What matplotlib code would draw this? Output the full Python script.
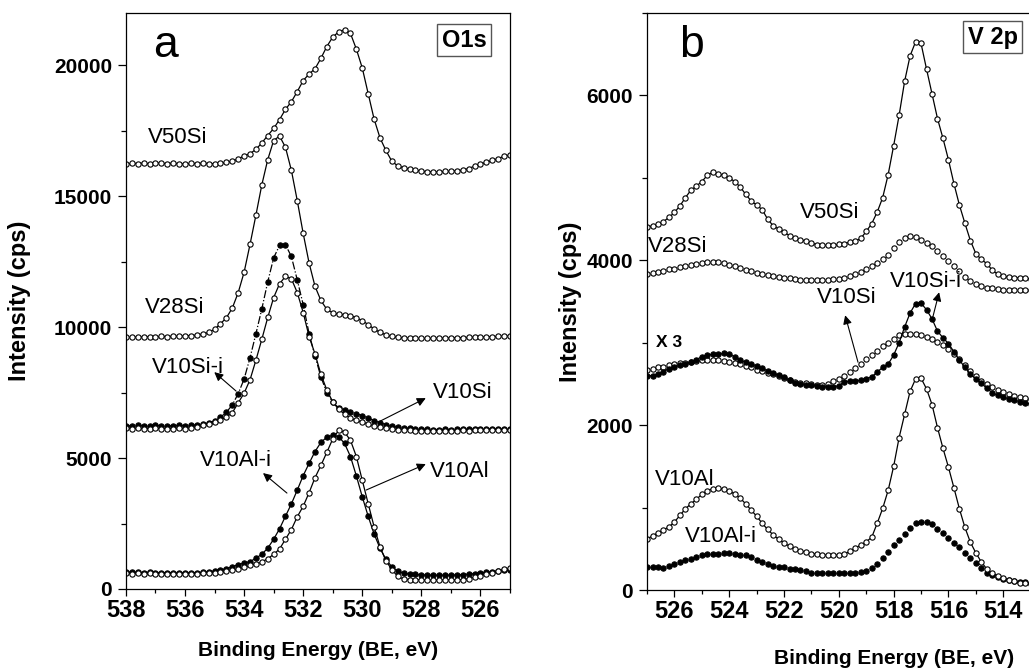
import matplotlib
matplotlib.use('Agg')
import matplotlib.pyplot as plt
from matplotlib.ticker import MultipleLocator
from matplotlib import font_manager

plt.rcParams['font.family'] = 'Liberation Sans'

installed = {f.name for f in font_manager.fontManager.ttflist}
if 'Liberation Sans Narrow' in installed:
    XFONT, XTICK_SIZE, XLABEL_SIZE = 'Liberation Sans Narrow', 20, 18
else:
    XFONT, XTICK_SIZE, XLABEL_SIZE = 'Liberation Sans', 17, 15

# ---- panel a : O 1s -------------------------------------------------------
BE_A = [538.0, 537.8, 537.6, 537.4, 537.2, 537.0, 536.8, 536.6, 536.4, 536.2,
        536.0, 535.8, 535.6, 535.4, 535.2, 535.0, 534.8, 534.6, 534.4, 534.2,
        534.0, 533.8, 533.6, 533.4, 533.2, 533.0, 532.8, 532.6, 532.4, 532.2,
        532.0, 531.8, 531.6, 531.4, 531.2, 531.0, 530.8, 530.6, 530.4, 530.2,
        530.0, 529.8, 529.6, 529.4, 529.2, 529.0, 528.8, 528.6, 528.4, 528.2,
        528.0, 527.8, 527.6, 527.4, 527.2, 527.0, 526.8, 526.6, 526.4, 526.2,
        526.0, 525.8, 525.6, 525.4, 525.2, 525.0]

o1s_v50si = [16230, 16260, 16250, 16270, 16240, 16280, 16260, 16250, 16270, 16240,
             16230, 16260, 16250, 16270, 16250, 16240, 16260, 16300, 16340, 16430,
             16540, 16630, 16790, 17040, 17320, 17590, 17930, 18320, 18610, 19000,
             19420, 19670, 19870, 20270, 20720, 21080, 21280, 21360, 21220, 20620,
             19900, 18920, 17950, 17230, 16750, 16340, 16160, 16090, 16040, 16000,
             15960, 15940, 15930, 15930, 15950, 15950, 15980, 16000, 16060, 16150,
             16230, 16300, 16370, 16440, 16530, 16580]

o1s_v28si = [9620, 9610, 9630, 9620, 9640, 9630, 9650, 9640, 9660, 9650,
             9670, 9680, 9700, 9740, 9800, 9920, 10130, 10360, 10730, 11320,
             12100, 13160, 14280, 15440, 16400, 17130, 17300, 16870, 15990, 14830,
             13580, 12450, 11560, 11020, 10680, 10550, 10490, 10480, 10440, 10360,
             10250, 10100, 9930, 9800, 9710, 9650, 9610, 9590, 9580, 9570,
             9570, 9570, 9570, 9580, 9580, 9590, 9600, 9600, 9610, 9620,
             9620, 9630, 9640, 9650, 9660, 9660]

o1s_v10si_i = [6240, 6230, 6250, 6240, 6230, 6250, 6240, 6230, 6240, 6250,
               6240, 6260, 6270, 6290, 6340, 6430, 6560, 6750, 7030, 7460,
               8020, 8830, 9750, 10700, 11730, 12650, 13120, 13150, 12700, 11800,
               10860, 9750, 8900, 8100, 7500, 7130, 6920, 6830, 6760, 6700,
               6620, 6530, 6430, 6350, 6280, 6220, 6180, 6150, 6140, 6130,
               6110, 6100, 6090, 6090, 6100, 6090, 6100, 6110, 6100, 6110,
               6120, 6110, 6120, 6110, 6100, 6100]

o1s_v10si = [6140, 6130, 6140, 6130, 6120, 6140, 6130, 6120, 6130, 6140,
             6130, 6150, 6190, 6250, 6320, 6385, 6455, 6565, 6730, 7110,
             7480, 7990, 8740, 9540, 10370, 11130, 11660, 11940, 11850, 11320,
             10560, 9640, 8980, 8200, 7600, 7150, 6860, 6680, 6530, 6440,
             6380, 6300, 6240, 6190, 6150, 6110, 6090, 6070, 6060, 6050,
             6040, 6040, 6050, 6040, 6050, 6040, 6050, 6060, 6050, 6060,
             6060, 6070, 6060, 6070, 6060, 6070]

o1s_v10al_i = [640, 650, 640, 630, 640, 630, 620, 630, 620, 610,
               620, 620, 630, 640, 660, 690, 730, 780, 850, 930,
               990, 1050, 1170, 1330, 1560, 1900, 2300, 2780, 3250, 3780,
               4330, 4800, 5250, 5600, 5800, 5870, 5820, 5560, 5060, 4320,
               3520, 2780, 2100, 1560, 1130, 850, 670, 600, 570, 555,
               540, 535, 530, 525, 530, 530, 540, 550, 570, 590,
               615, 640, 660, 690, 710, 730]

o1s_v10al = [600, 590, 600, 590, 600, 590, 580, 590, 590, 580,
             580, 590, 590, 600, 610, 620, 640, 670, 710, 770,
             830, 900, 960, 1030, 1160, 1320, 1530, 1900, 2270, 2760,
             3160, 3680, 4250, 4720, 5220, 5730, 6060, 5990, 5680, 5060,
             4150, 3260, 2380, 1610, 1080, 740, 480, 380, 360, 350,
             345, 340, 340, 345, 340, 345, 350, 360, 400, 450,
             510, 570, 620, 680, 750, 800]

# ---- panel b : V 2p -------------------------------------------------------
BE_B = [527.0, 526.8, 526.6, 526.4, 526.2, 526.0, 525.8, 525.6, 525.4, 525.2,
        525.0, 524.8, 524.6, 524.4, 524.2, 524.0, 523.8, 523.6, 523.4, 523.2,
        523.0, 522.8, 522.6, 522.4, 522.2, 522.0, 521.8, 521.6, 521.4, 521.2,
        521.0, 520.8, 520.6, 520.4, 520.2, 520.0, 519.8, 519.6, 519.4, 519.2,
        519.0, 518.8, 518.6, 518.4, 518.2, 518.0, 517.8, 517.6, 517.4, 517.2,
        517.0, 516.8, 516.6, 516.4, 516.2, 516.0, 515.8, 515.6, 515.4, 515.2,
        515.0, 514.8, 514.6, 514.4, 514.2, 514.0, 513.8, 513.6, 513.4, 513.2,
        513.0]

v2p_v50si = [4400, 4420, 4440, 4470, 4520, 4580, 4660, 4760, 4850, 4900,
             4955, 5030, 5068, 5050, 5030, 5000, 4955, 4890, 4800, 4720,
             4670, 4615, 4500, 4420, 4380, 4340, 4300, 4265, 4248, 4235,
             4210, 4190, 4181, 4181, 4181, 4194, 4202, 4222, 4232, 4265,
             4350, 4445, 4585, 4760, 5040, 5390, 5760, 6170, 6480, 6650,
             6630, 6320, 6020, 5720, 5480, 5220, 4930, 4670, 4450, 4240,
             4080, 4010, 3960, 3880, 3830, 3805, 3795, 3790, 3785, 3780,
             3778]

v2p_v28si = [3830, 3845, 3860, 3875, 3890, 3900, 3915, 3930, 3945, 3955,
             3965, 3978, 3985, 3978, 3962, 3945, 3925, 3905, 3885, 3865,
             3850, 3835, 3822, 3810, 3800, 3790, 3780, 3772, 3765, 3760,
             3757, 3757, 3757, 3760, 3767, 3775, 3790, 3808, 3830, 3860,
             3890, 3925, 3965, 4010, 4070, 4145, 4220, 4270, 4295, 4280,
             4250, 4215, 4170, 4110, 4055, 3995, 3930, 3870, 3800, 3750,
             3710, 3685, 3668, 3660, 3650, 3645, 3640, 3640, 3636, 3636,
             3636]

v2p_v10si = [2670, 2685, 2700, 2710, 2730, 2740, 2748, 2755, 2767, 2775,
             2785, 2788, 2790, 2788, 2782, 2772, 2757, 2737, 2718, 2700,
             2673, 2653, 2635, 2617, 2593, 2566, 2547, 2528, 2515, 2507,
             2500, 2490, 2490, 2505, 2530, 2565, 2596, 2640, 2693, 2747,
             2802, 2848, 2903, 2955, 3000, 3050, 3090, 3108, 3111, 3108,
             3095, 3070, 3040, 3008, 2970, 2918, 2862, 2800, 2725, 2655,
             2595, 2537, 2495, 2458, 2425, 2397, 2374, 2357, 2340, 2330,
             2320]

v2p_v10si_i = [2600, 2600, 2620, 2650, 2685, 2705, 2725, 2745, 2765, 2795,
               2830, 2850, 2860, 2860, 2870, 2860, 2830, 2790, 2760, 2740,
               2720, 2690, 2660, 2630, 2605, 2580, 2545, 2515, 2500, 2485,
               2485, 2480, 2465, 2465, 2465, 2480, 2525, 2535, 2535, 2545,
               2565, 2585, 2645, 2700, 2740, 2850, 3000, 3190, 3360, 3475,
               3480, 3400, 3290, 3140, 3060, 2990, 2890, 2790, 2700, 2620,
               2560, 2510, 2445, 2395, 2360, 2340, 2320, 2305, 2285, 2270,
               2260]

v2p_v10al = [620, 655, 695, 730, 765, 825, 905, 985, 1045, 1100,
             1160, 1205, 1230, 1232, 1225, 1200, 1165, 1115, 1045, 970,
             895, 810, 735, 670, 615, 570, 530, 497, 478, 458,
             442, 434, 424, 424, 424, 424, 432, 470, 510, 545,
             585, 640, 810, 990, 1210, 1500, 1850, 2130, 2410, 2560,
             2570, 2440, 2250, 1970, 1720, 1490, 1240, 985, 760, 580,
             450, 340, 255, 205, 170, 148, 125, 106, 89, 81,
             75]

v2p_v10al_i = [275, 275, 275, 272, 290, 318, 340, 360, 380, 400,
               422, 436, 436, 440, 452, 450, 436, 424, 424, 396,
               366, 345, 318, 290, 277, 275, 260, 250, 245, 225,
               210, 210, 210, 210, 210, 210, 210, 210, 212, 218,
               232, 262, 318, 385, 460, 540, 612, 685, 752, 812,
               828, 828, 800, 742, 690, 635, 570, 520, 448, 392,
               330, 268, 212, 178, 158, 133, 122, 110, 102, 95,
               90]


def trace(ax, x, y, filled=False, ls='-'):
    ax.plot(x, y, ls=ls, color='black', lw=0.9, marker='o', ms=3.8,
            mew=0.8, mec='black', mfc='black' if filled else 'white')


def label(ax, x, y, s, size=16, weight='normal'):
    ax.text(x, y, s, fontsize=size, fontweight=weight, ha='left', va='baseline')


def arrow(ax, tail, head):
    ax.annotate('', xy=head, xytext=tail,
                arrowprops=dict(arrowstyle='-|>', color='black', lw=0.8,
                                mutation_scale=13, shrinkA=0, shrinkB=0))


def style(ax, xlim, ylim, ymaj, ymin):
    ax.set_xlim(*xlim)
    ax.set_ylim(*ylim)
    ax.xaxis.set_major_locator(MultipleLocator(2))
    ax.xaxis.set_minor_locator(MultipleLocator(1))
    ax.yaxis.set_major_locator(MultipleLocator(ymaj))
    ax.yaxis.set_minor_locator(MultipleLocator(ymin))
    ax.tick_params(which='both', direction='out', top=False, right=False, width=0.9)
    ax.tick_params(axis='x', which='major', length=5, pad=2)
    ax.tick_params(axis='x', which='minor', length=3)
    ax.tick_params(axis='y', which='major', length=6, pad=4, labelsize=15)
    ax.tick_params(axis='y', which='minor', length=3.5)
    for t in ax.get_yticklabels():
        t.set_fontweight('bold')
    for t in ax.get_xticklabels():
        t.set_fontweight('bold')
        t.set_fontfamily(XFONT)
        t.set_fontsize(XTICK_SIZE)
    for sp in ax.spines.values():
        sp.set_linewidth(0.9)
    ax.set_ylabel('Intensity (cps)', fontsize=17, fontweight='bold')
    ax.set_xlabel('Binding Energy (BE, eV)', fontsize=XLABEL_SIZE,
                  fontweight='bold', fontfamily=XFONT)


fig = plt.figure(figsize=(10.29, 6.70), dpi=100)

# panel a
ax1 = fig.add_axes([0.1224, 0.1209, 0.3732, 0.8597])
trace(ax1, BE_A, o1s_v50si)
trace(ax1, BE_A, o1s_v28si)
trace(ax1, BE_A, o1s_v10si_i, filled=True, ls='-.')
trace(ax1, BE_A, o1s_v10si)
trace(ax1, BE_A, o1s_v10al_i, filled=True)
trace(ax1, BE_A, o1s_v10al)
style(ax1, (538, 525), (0, 22000), 5000, 2500)
ax1.yaxis.set_label_coords(-0.247, 0.5)
ax1.xaxis.set_label_coords(0.5, -0.09)

label(ax1, 537.26, 17024, 'V50Si')
label(ax1, 537.36, 10535, 'V28Si')
label(ax1, 537.13, 8245, 'V10Si-i')
label(ax1, 527.61, 7290, 'V10Si')
label(ax1, 535.51, 4695, 'V10Al-i')
label(ax1, 527.71, 4275, 'V10Al')
arrow(ax1, (534.27, 7558), (535.01, 8283))
arrow(ax1, (529.46, 6374), (527.85, 7290))
arrow(ax1, (532.55, 3664), (533.36, 4428))
arrow(ax1, (529.87, 3779), (527.85, 4771))
ax1.text(0.070, 0.924, 'a', transform=ax1.transAxes, fontsize=32,
         ha='left', va='baseline')
ax1.text(0.880, 0.953, 'O1s', transform=ax1.transAxes, fontsize=17,
         fontweight='bold', ha='center', va='center',
         bbox=dict(boxstyle='square,pad=0.2', fc='white', ec='#555555', lw=1))

# panel b
ax2 = fig.add_axes([0.6288, 0.1194, 0.3728, 0.8612])
trace(ax2, BE_B, v2p_v50si)
trace(ax2, BE_B, v2p_v28si, ls='none')
trace(ax2, BE_B, v2p_v10si, ls='none')
trace(ax2, BE_B, v2p_v10si_i, filled=True)
trace(ax2, BE_B, v2p_v10al_i, filled=True, ls='none')
trace(ax2, BE_B, v2p_v10al)
style(ax2, (527, 513), (0, 7000), 2000, 1000)
ax2.spines['right'].set_visible(False)
ax2.yaxis.set_label_coords(-0.169, 0.5)
ax2.xaxis.set_label_coords(0.644, -0.103)

label(ax2, 521.42, 4508, 'V50Si')
label(ax2, 526.96, 4097, 'V28Si')
label(ax2, 518.13, 3672, 'V10Si-i')
label(ax2, 520.80, 3478, 'V10Si')
label(ax2, 526.67, 2945, 'X 3', size=12.5, weight='bold')
label(ax2, 526.71, 1273, 'V10Al')
label(ax2, 525.61, 582, 'V10Al-i')
arrow(ax2, (516.60, 3272), (516.34, 3612))
arrow(ax2, (519.30, 2763), (519.77, 3333))
ax2.text(0.083, 0.924, 'b', transform=ax2.transAxes, fontsize=32,
         ha='left', va='baseline')
ax2.text(0.901, 0.958, 'V 2p', transform=ax2.transAxes, fontsize=17,
         fontweight='bold', ha='center', va='center',
         bbox=dict(boxstyle='square,pad=0.2', fc='white', ec='#555555', lw=1))

fig.savefig('out.png', dpi=100)
